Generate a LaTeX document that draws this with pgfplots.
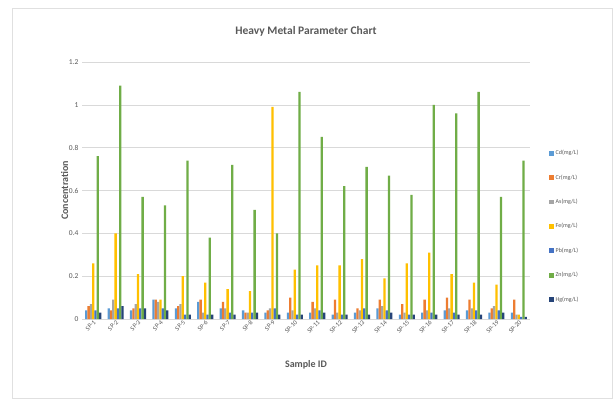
\documentclass[border=0pt]{standalone}
\usepackage{fontspec}
\setmainfont{Carlito}
\usepackage{pgfplots}
\usepackage{pgfplotstable}
\pgfplotsset{compat=1.18}

\definecolor{cCd}{HTML}{5B9BD5}
\definecolor{cCr}{HTML}{ED7D31}
\definecolor{cAs}{HTML}{A5A5A5}
\definecolor{cFe}{HTML}{FFC000}
\definecolor{cPb}{HTML}{4472C4}
\definecolor{cZn}{HTML}{70AD47}
\definecolor{cHg}{HTML}{264478}
\definecolor{txt}{HTML}{595959}

% heavy metal concentrations (mg/L) per sample
\pgfplotstableread{
x  Cd    Cr    As    Fe    Pb    Zn    Hg
1  0.04  0.06  0.07  0.26  0.04  0.76  0.03
2  0.05  0.04  0.09  0.40  0.05  1.09  0.06
3  0.04  0.05  0.07  0.21  0.05  0.57  0.05
4  0.09  0.09  0.08  0.09  0.05  0.53  0.04
5  0.05  0.06  0.07  0.20  0.02  0.74  0.02
6  0.08  0.09  0.03  0.17  0.02  0.38  0.02
7  0.05  0.08  0.05  0.14  0.03  0.72  0.02
8  0.04  0.03  0.03  0.13  0.03  0.51  0.03
9  0.03  0.04  0.05  0.99  0.05  0.40  0.02
10 0.03  0.10  0.04  0.23  0.02  1.06  0.02
11 0.03  0.08  0.05  0.25  0.04  0.85  0.03
12 0.02  0.09  0.03  0.25  0.02  0.62  0.02
13 0.03  0.05  0.04  0.28  0.05  0.71  0.02
14 0.05  0.09  0.06  0.19  0.04  0.67  0.03
15 0.02  0.07  0.03  0.26  0.02  0.58  0.02
16 0.03  0.09  0.04  0.31  0.03  1.00  0.02
17 0.04  0.10  0.05  0.21  0.03  0.96  0.02
18 0.04  0.09  0.05  0.17  0.04  1.06  0.02
19 0.03  0.05  0.06  0.16  0.04  0.57  0.03
20 0.03  0.09  0.02  0.02  0.01  0.74  0.01
}\metals

\begin{document}
\begin{tikzpicture}[x=1pt,y=1pt]
% chart area
\fill[white] (0,0) rectangle (616,402);
\draw[black!12, line width=0.8pt] (12,4) rectangle (612,394);
\node[text=txt, font=\fontsize{11.5}{13}\selectfont\bfseries] at (306,371) {Heavy Metal Parameter Chart};

\begin{axis}[
  at={(82pt,83pt)}, anchor=south west,
  scale only axis, width=448pt, height=257pt,
  ybar=0pt, bar width=2.3pt,
  xmin=0.5, xmax=20.5, ymin=0, ymax=1.2,
  ytick={0,0.2,...,1.2},
  yticklabels={0,0.2,0.4,0.6,0.8,1,1.2},
  xtick={1,...,20},
  xticklabels={SP-1,SP-2,SP-3,SP-4,SP-5,SP-6,SP-7,SP-8,SP-9,SP-10,SP-11,SP-12,SP-13,SP-14,SP-15,SP-16,SP-17,SP-18,SP-19,SP-20},
  x tick label style={rotate=45, anchor=north east, font=\fontsize{6.5}{7}\selectfont, text=txt, inner sep=0.5pt},
  y tick label style={font=\fontsize{7.5}{8}\selectfont, text=txt},
  /pgf/number format/assume math mode=true,
  axis line style={draw=none},
  major tick length=0pt,
  ymajorgrids, grid style={black!15, line width=0.6pt},
  xlabel={Sample ID}, ylabel={Concentration},
  label style={font=\fontsize{10}{12}\selectfont\bfseries, text=txt},
  xlabel style={at={(axis description cs:0.5,0)}, yshift=-38pt, anchor=north},
  ylabel style={yshift=-6pt},
  legend style={at={(1.035,0.36)}, anchor=west, draw=none, fill=none,
    font=\fontsize{6}{7}\selectfont, text=txt, row sep=14.5pt},
  legend cell align=left,
  legend image code/.code={\fill[#1] (0pt,-2.4pt) rectangle (4.8pt,2.4pt);},
]
\addplot[fill=cCd, draw=none] table[x=x, y=Cd] {\metals};
\addplot[fill=cCr, draw=none] table[x=x, y=Cr] {\metals};
\addplot[fill=cAs, draw=none] table[x=x, y=As] {\metals};
\addplot[fill=cFe, draw=none] table[x=x, y=Fe] {\metals};
\addplot[fill=cPb, draw=none] table[x=x, y=Pb] {\metals};
\addplot[fill=cZn, draw=none] table[x=x, y=Zn] {\metals};
\addplot[fill=cHg, draw=none] table[x=x, y=Hg] {\metals};
\legend{Cd(mg/L),Cr(mg/L),As(mg/L),Fe(mg/L),Pb(mg/L),Zn(mg/L),Hg(mg/L)}
\end{axis}
\end{tikzpicture}
\end{document}
